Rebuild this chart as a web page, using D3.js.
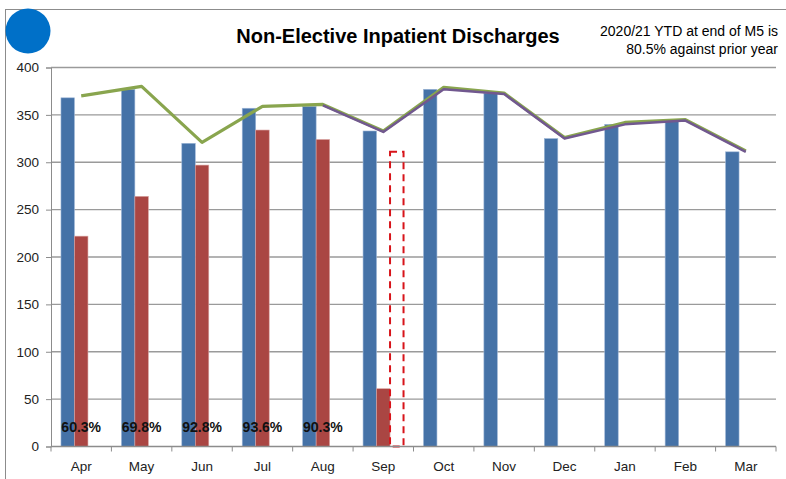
<!DOCTYPE html>
<html>
<head>
<meta charset="utf-8">
<script src="https://cdn.jsdelivr.net/npm/d3@7"></script>
<style>
  body { margin: 0; background: #fff; }
  svg { display: block; font-family: "Liberation Sans", Arial, sans-serif; }
</style>
</head>
<body>
<svg id="chart" width="786" height="479"></svg>
<script>
// data
var months = ["Apr","May","Jun","Jul","Aug","Sep","Oct","Nov","Dec","Jan","Feb","Mar"];
var priorYear = [368, 377, 320, 357, 359, 333, 377, 373, 325, 340, 344, 311];
var currentYear = [222, 264, 297, 334, 324, 61, null, null, null, null, null, null];
var sepEstimate = [null, null, null, null, null, 311, null, null, null, null, null, null];
var planLine = [370, 380, 321, 359, 361, 333, 379, 373, 326, 342, 345, 312];
var forecastLine = [null, null, null, null, 360, 332, 377, 372, 325, 340, 344, 311];
var pctLabels = ["60.3%", "69.8%", "92.8%", "93.6%", "90.3%"];
var yTicks = [0, 50, 100, 150, 200, 250, 300, 350, 400];

var svg = d3.select("#chart");

// outer frame
svg.append("rect")
  .attr("x", 5.5).attr("y", 9.5)
  .attr("width", 800).attr("height", 500)
  .attr("fill", "none")
  .attr("stroke", "#8c8c8c")
  .attr("stroke-width", 1);

// blue badge
svg.append("ellipse")
  .attr("cx", 28).attr("cy", 31)
  .attr("rx", 22.5).attr("ry", 22.5)
  .attr("fill", "#0070c8");

svg.append("text")
  .attr("x", 398).attr("y", 43)
  .attr("text-anchor", "middle")
  .style("font-weight", "bold")
  .style("font-size", "20px")
  .attr("fill", "#000")
  .text("Non-Elective Inpatient Discharges");

svg.append("text")
  .attr("x", 778).attr("y", 36)
  .attr("text-anchor", "end")
  .style("font-size", "14px")
  .attr("fill", "#000")
  .text("2020/21 YTD at end of M5 is");
svg.append("text")
  .attr("x", 778).attr("y", 54)
  .attr("text-anchor", "end")
  .style("font-size", "14px")
  .attr("fill", "#000")
  .text("80.5% against prior year");

var x = d3.scaleBand().domain(months).range([51, 776]).padding(0);
var bw = x.bandwidth();
var x1 = d3.scaleBand().domain([0, 1, 2]).range([bw * 0.165, bw * 0.835]).padding(0);
var y = d3.scaleLinear().domain([0, 400]).range([446.5, 67.5]);

// gridlines
svg.append("g")
  .selectAll("line")
  .data(yTicks.slice(1))
  .join("line")
  .attr("x1", 51).attr("x2", 776)
  .attr("y1", d => y(d)).attr("y2", d => y(d))
  .attr("stroke", "#9a9a9a")
  .attr("stroke-width", 1.3);

// y axis
var yAxis = svg.append("g")
  .attr("transform", "translate(51,0)")
  .call(d3.axisLeft(y).tickValues(yTicks).tickSize(5).tickPadding(7));
yAxis.select(".domain").attr("stroke", "#8c8c8c");
yAxis.selectAll(".tick line").attr("stroke", "#8c8c8c");
yAxis.selectAll("text")
  .style("font-size", "13.5px")
  .style("font-family", "Liberation Sans, Arial, sans-serif")
  .attr("fill", "#222");

// bars
var barSeries = [
  {values: priorYear, color: "#4572a7", edge: "#9fb8d8"},
  {values: currentYear, color: "#aa4643", edge: "#d9a3a1"}
];
barSeries.forEach(function(s, si){
  svg.append("g")
    .selectAll("rect")
    .data(months.map((m, i) => ({m: m, v: s.values[i]})).filter(d => d.v != null))
    .join("rect")
    .attr("x", d => x(d.m) + x1(si))
    .attr("width", x1.bandwidth())
    .attr("y", d => y(d.v))
    .attr("height", d => y(0) - y(d.v))
    .attr("fill", s.color)
    .attr("stroke", s.edge)
    .attr("stroke-width", 0.6);
});

// dashed estimate box
svg.append("g")
  .selectAll("rect")
  .data(months.map((m, i) => ({m: m, v: sepEstimate[i]})).filter(d => d.v != null))
  .join("rect")
  .attr("x", d => x(d.m) + x1(2))
  .attr("width", x1.bandwidth())
  .attr("y", d => y(d.v))
  .attr("height", d => y(0) - y(d.v))
  .attr("fill", "none")
  .attr("stroke", "#d7141a")
  .attr("stroke-width", 2)
  .attr("stroke-dasharray", "7,5");

// x axis
svg.append("line")
  .attr("x1", 51).attr("x2", 776)
  .attr("y1", y(0)).attr("y2", y(0))
  .attr("stroke", "#8c8c8c")
  .attr("stroke-width", 1.3);
svg.append("g")
  .selectAll("line")
  .data(d3.range(months.length + 1))
  .join("line")
  .attr("x1", i => x.range()[0] + i * x.step())
  .attr("x2", i => x.range()[0] + i * x.step())
  .attr("y1", y(0)).attr("y2", y(0) + 5)
  .attr("stroke", "#8c8c8c");
svg.append("g")
  .selectAll("text")
  .data(months)
  .join("text")
  .attr("x", d => x(d) + bw / 2)
  .attr("y", 471)
  .attr("text-anchor", "middle")
  .style("font-size", "13.5px")
  .attr("fill", "#222")
  .text(d => d);

// lines
var line = d3.line()
  .defined(d => d.v != null)
  .x(d => x(d.m) + bw / 2)
  .y(d => y(d.v));

svg.append("path")
  .datum(months.map((m, i) => ({m: m, v: planLine[i]})))
  .attr("d", line)
  .attr("fill", "none")
  .attr("stroke", "#89a54e")
  .attr("stroke-width", 3.2)
  .attr("stroke-linejoin", "round");

svg.append("path")
  .datum(months.map((m, i) => ({m: m, v: forecastLine[i]})))
  .attr("d", line)
  .attr("fill", "none")
  .attr("stroke", "#71588f")
  .attr("stroke-width", 2.5)
  .attr("stroke-linejoin", "round");

// percentage labels
svg.append("g")
  .selectAll("text")
  .data(pctLabels)
  .join("text")
  .attr("x", (d, i) => x(months[i]) + bw / 2)
  .attr("y", y(0) - 15)
  .attr("text-anchor", "middle")
  .style("font-size", "14px")
  .style("font-weight", "bold")
  .attr("fill", "#111")
  .text(d => d);
</script>
</body>
</html>
